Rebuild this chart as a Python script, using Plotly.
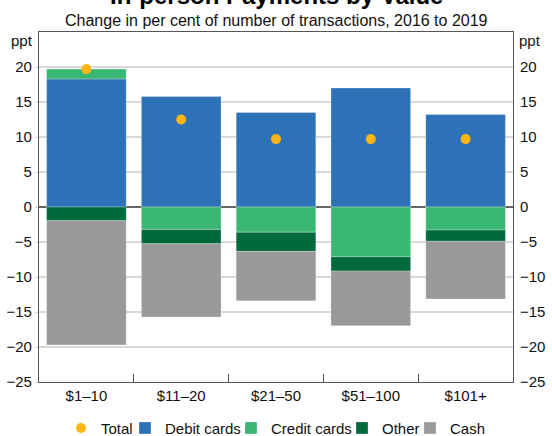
import plotly.graph_objects as go

categories = ["$1–10", "$11–20", "$21–50", "$51–100", "$101+"]
debit = [18.3, 15.8, 13.5, 17.0, 13.2]
credit = [1.4, -3.2, -3.6, -7.1, -3.3]
other = [-1.95, -2.05, -2.75, -2.05, -1.6]
cash = [-17.75, -10.45, -7.05, -7.8, -8.25]
total = [19.7, 12.5, 9.7, 9.7, 9.7]
yticks = [-25, -20, -15, -10, -5, 0, 5, 10, 15, 20]

FONT = "Liberation Sans, Arial, sans-serif"
C_DEBIT = "#2d71b6"
C_CREDIT = "#3bb774"
C_OTHER = "#006a3c"
C_CASH = "#999999"
C_TOTAL = "#fdb515"

fig = go.Figure()
edge = dict(color="rgba(255,255,255,0.35)", width=0.8)
fig.add_trace(go.Bar(x=categories, y=debit, name="Debit cards", legendwidth=61,
                     marker=dict(color=C_DEBIT, line=edge)))
fig.add_trace(go.Bar(x=categories, y=credit, name="Credit cards", legendwidth=66,
                     marker=dict(color=C_CREDIT, line=edge)))
fig.add_trace(go.Bar(x=categories, y=other, name="Other", legendwidth=23,
                     marker=dict(color=C_OTHER, line=edge)))
fig.add_trace(go.Bar(x=categories, y=cash, name="Cash", legendwidth=36,
                     marker=dict(color=C_CASH, line=edge)))
fig.add_trace(go.Scatter(x=categories, y=total, name="Total", mode="markers", legendwidth=19,
                         marker=dict(color=C_TOTAL, size=10, line=dict(width=0))))
# invisible trace to carry the right-hand axis
fig.add_trace(go.Scatter(x=categories, y=total, yaxis="y2", mode="markers",
                         marker=dict(opacity=0), showlegend=False, hoverinfo="skip"))

fig.update_layout(
    width=552, height=436,
    margin=dict(l=39, r=39, t=32, b=54, autoexpand=False),
    paper_bgcolor="white", plot_bgcolor="white",
    barmode="relative", bargap=0.16,
    font=dict(family=FONT, size=15, color="#111"),
    showlegend=True,
    legend=dict(orientation="h", x=0.5, xanchor="center", y=-0.132, yanchor="middle",
                traceorder="normal", font=dict(size=15), itemwidth=30),
    xaxis=dict(type="category", showline=True, mirror=True, linecolor="#555", linewidth=1.3,
               ticks="inside", ticklen=8, tickcolor="#555", tickson="boundaries",
               showgrid=False, tickfont=dict(size=15)),
    yaxis=dict(range=[-25, 25], tickvals=yticks, showline=True, mirror=True, linecolor="#555",
               linewidth=1.3, showgrid=True, gridcolor="#d9d9d9", gridwidth=1.5,
               zeroline=True, zerolinecolor="#666", zerolinewidth=1.5,
               ticks="outside", ticklen=3, tickcolor="#d9d9d9", tickfont=dict(size=15)),
    yaxis2=dict(range=[-25, 25], tickvals=yticks, overlaying="y", side="right",
                showgrid=False, zeroline=False, showline=False,
                ticks="outside", ticklen=3, tickcolor="rgba(0,0,0,0)", tickfont=dict(size=15)),
)

# legend order: Total first
fig.data[4].legendrank = 1
for i, t in enumerate(fig.data[:4]):
    t.legendrank = 2 + i

fig.add_annotation(text="<b>In-person Payments by Value</b>", xref="paper", yref="paper",
                   x=0.5, y=1.061, xanchor="center", yanchor="bottom", showarrow=False,
                   font=dict(size=24, family=FONT, color="#000"))
fig.add_annotation(text="Change in per cent of number of transactions, 2016 to 2019",
                   xref="paper", yref="paper", x=0.5, y=1.0 + 12/350, xanchor="center",
                   yanchor="middle", showarrow=False, font=dict(size=16, family=FONT, color="#111"))
fig.add_annotation(text="ppt", xref="paper", yref="paper", x=-0.008, y=0.976, xanchor="right",
                   yanchor="middle", showarrow=False, font=dict(size=15, family=FONT, color="#111"))
fig.add_annotation(text="ppt", xref="paper", yref="paper", x=1.008, y=0.976, xanchor="left",
                   yanchor="middle", showarrow=False, font=dict(size=15, family=FONT, color="#111"))

fig.write_html("out.html", config={"displayModeBar": False},
               post_script="document.body.style.margin='0';")
